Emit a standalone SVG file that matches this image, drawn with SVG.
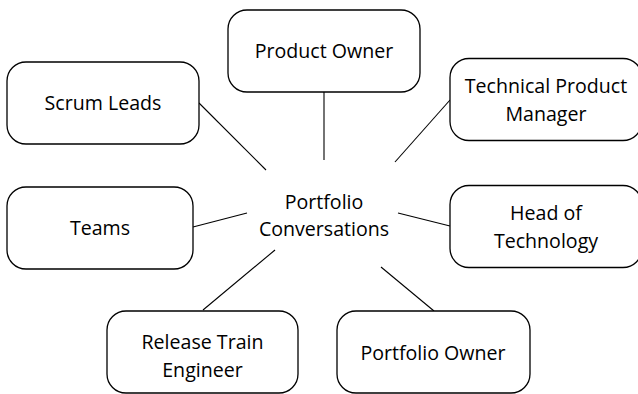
<svg xmlns="http://www.w3.org/2000/svg" width="638" height="394" viewBox="0 0 638 394">
<style>
.box{fill:#fff;stroke:#000;stroke-width:1.3}
.t{font-family:"Open Sans","Liberation Sans",sans-serif;font-size:19.6px;fill:#000;text-anchor:middle}
.c line{stroke:#000;stroke-width:1.1}
</style>
<rect width="638" height="394" fill="#fff"/>
<g class="c" id="connectors">
<line x1="324" y1="92" x2="324" y2="160"/>
<line x1="199" y1="103" x2="266" y2="170"/>
<line x1="450" y1="100" x2="395" y2="162"/>
<line x1="193" y1="227" x2="247" y2="213"/>
<line x1="398" y1="213" x2="450" y2="226"/>
<line x1="203" y1="310" x2="275" y2="250"/>
<line x1="381" y1="267" x2="434" y2="311"/>
</g>
<g id="center"><text class="t" x="324" y="209">Portfolio</text><text class="t" x="324" y="236">Conversations</text></g>
<g id="product-owner"><rect class="box" x="228" y="10" width="192" height="82" rx="19"/><text class="t" x="324" y="58">Product Owner</text></g>
<g id="scrum-leads"><rect class="box" x="7" y="62" width="192" height="82" rx="19"/><text class="t" x="103" y="110">Scrum Leads</text></g>
<g id="tpm"><rect class="box" x="450" y="58.5" width="192" height="82" rx="19"/><text class="t" x="546" y="93">Technical Product</text><text class="t" x="546" y="121">Manager</text></g>
<g id="teams"><rect class="box" x="7" y="187" width="186" height="82" rx="19"/><text class="t" x="100" y="235">Teams</text></g>
<g id="head-tech"><rect class="box" x="450" y="185.5" width="192" height="82" rx="19"/><text class="t" x="546" y="220">Head of</text><text class="t" x="546" y="248">Technology</text></g>
<g id="rte"><rect class="box" x="107" y="311" width="191" height="82" rx="19"/><text class="t" x="202.5" y="349">Release Train</text><text class="t" x="202.5" y="377">Engineer</text></g>
<g id="portfolio-owner"><rect class="box" x="337" y="311" width="193" height="82" rx="19"/><text class="t" x="433" y="360">Portfolio Owner</text></g>
</svg>
